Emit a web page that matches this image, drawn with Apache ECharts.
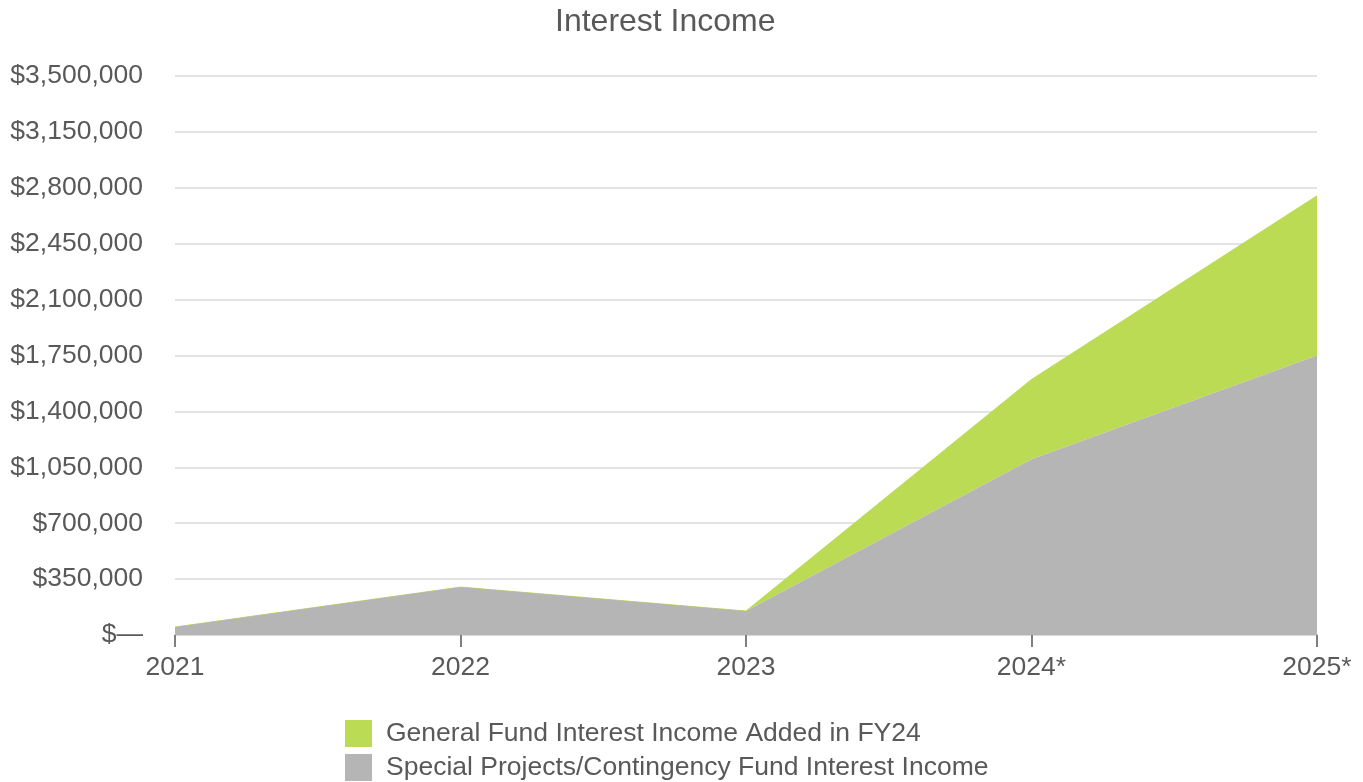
<!DOCTYPE html>
<html><head><meta charset="utf-8">
<script src="https://cdn.jsdelivr.net/npm/echarts@6/dist/echarts.min.js"></script>
<style>html,body{margin:0;padding:0;background:#fff}#c{width:1363px;height:782px}</style>
</head><body><div id="c"></div>
<script>
var categories = ['2021','2022','2023','2024*','2025*'];
var specialFund = [50000, 300000, 150000, 1100000, 1750000];
var generalFund = [0, 0, 0, 500000, 1000000];
var seriesNames = ['General Fund Interest Income Added in FY24','Special Projects/Contingency Fund Interest Income'];

var chart = echarts.init(document.getElementById('c'));
var font = 'Liberation Sans, Arial, sans-serif';
chart.setOption({
  animation:false,
  title:{text:'Interest Income',left:555,top:6,padding:0,textStyle:{fontFamily:font,fontSize:32,fontWeight:'normal',color:'#595959'}},
  grid:{left:175,right:46,top:76,bottom:147},
  legend:{orient:'vertical',left:345,top:720,height:70,padding:0,itemWidth:27,itemHeight:27,itemGap:7,icon:'rect',
    data:[seriesNames[0],seriesNames[1]],
    textStyle:{fontFamily:font,fontSize:26.5,color:'#595959',padding:[3,0,0,9]}},
  xAxis:{type:'category',data:categories,boundaryGap:false,
    axisLine:{lineStyle:{color:'#d9d9d9',width:2}},
    axisTick:{show:true,length:12,lineStyle:{color:'#7f7f7f',width:2}},
    axisLabel:{fontFamily:font,fontSize:26.5,color:'#595959',margin:19},
    splitLine:{show:false}},
  yAxis:{type:'value',min:0,max:3500000,interval:350000,
    axisLine:{show:false},axisTick:{show:false},
    axisLabel:{fontFamily:font,fontSize:26.5,color:'#595959',margin:32,padding:[3,0,0,0],
      formatter:function(v){return v===0?'$\u2014':'$'+v.toLocaleString('en-US');}},
    splitLine:{lineStyle:{color:'#e3e3e3',width:2}}},
  series:[
    {name:seriesNames[1],type:'line',stack:'a',data:specialFund,symbol:'none',
      lineStyle:{width:0},itemStyle:{color:'#b5b5b5'},areaStyle:{color:'#b5b5b5',opacity:1}},
    {name:seriesNames[0],type:'line',stack:'a',data:generalFund,symbol:'none',
      lineStyle:{width:1,color:'#bcdb55'},itemStyle:{color:'#bcdb55'},areaStyle:{color:'#bcdb55',opacity:1},z:1}
  ]
});
</script></body></html>
